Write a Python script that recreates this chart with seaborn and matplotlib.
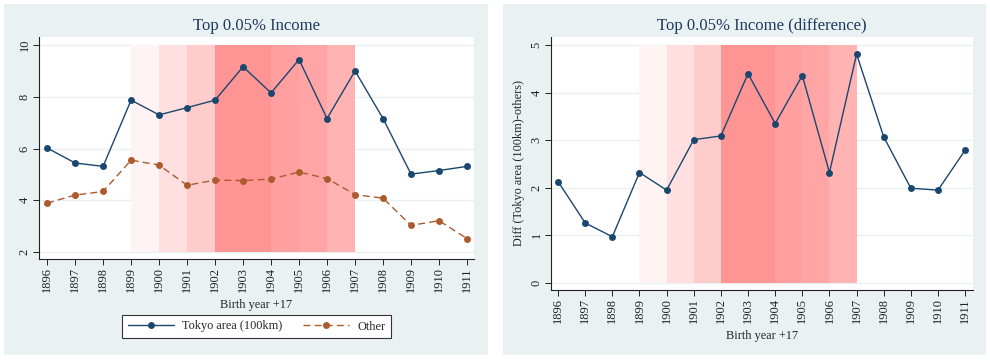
"""
Top 0.05% income by birth cohort: Tokyo area vs other regions
"""

import matplotlib.pyplot as plt
import seaborn as sns
from matplotlib.lines import Line2D
from matplotlib.patches import Rectangle

# -----------------------------
# Data
# -----------------------------
years = [1896, 1897, 1898, 1899, 1900, 1901, 1902, 1903,
         1904, 1905, 1906, 1907, 1908, 1909, 1910, 1911]

tokyo = [6.02, 5.44, 5.31, 7.87, 7.30, 7.58, 7.87, 9.16,
         8.15, 9.44, 7.16, 9.00, 7.16, 5.01, 5.15, 5.31]

other = [3.89, 4.20, 4.34, 5.55, 5.36, 4.58, 4.78, 4.76,
         4.82, 5.09, 4.84, 4.22, 4.08, 3.03, 3.21, 2.52]

diff = [2.13, 1.26, 0.97, 2.32, 1.95, 3.01, 3.09, 4.40,
        3.35, 4.36, 2.32, 4.81, 3.07, 1.99, 1.95, 2.79]

band_start = [1899, 1900, 1901, 1902, 1904, 1905, 1906]
band_end = [1900, 1901, 1902, 1904, 1905, 1906, 1907]
band_colors = ["#fff3f3", "#ffdfdf", "#ffcccc", "#ff9494",
               "#ff9f9f", "#ffa5a5", "#ffb3b3"]

left_yticks = [2, 4, 6, 8, 10]
right_yticks = [0, 1, 2, 3, 4, 5]

# -----------------------------
# Style
# -----------------------------
NAVY = "#1a476f"
BROWN = "#ad5a2d"
PANEL_BG = "#e9f1f3"
GRID = "#e9f1f3"
TITLE_COLOR = "#1e3a5c"

sns.set_theme(style="white")
plt.rcParams["font.family"] = ["Liberation Serif", "DejaVu Serif"]
plt.rcParams["axes.edgecolor"] = "#222222"
plt.rcParams["xtick.color"] = "#222222"
plt.rcParams["ytick.color"] = "#222222"

fig = plt.figure(figsize=(9.9, 3.6), dpi=100)
W, H = 990, 360


def fig_rect(x0, y0, x1, y1):
    return [x0 / W, 1 - y1 / H, (x1 - x0) / W, (y1 - y0) / H]


# panel backgrounds
for x0, x1 in [(4, 488), (503, 986)]:
    r = fig_rect(x0, 4, x1, 355)
    fig.patches.append(Rectangle((r[0], r[1]), r[2], r[3], transform=fig.transFigure,
                                 facecolor=PANEL_BG, edgecolor="none", zorder=-10))


def shade(ax, ylo, yhi):
    for s, e, c in zip(band_start, band_end, band_colors):
        ax.fill_between([s, e], ylo, yhi, facecolor=c, edgecolor="none",
                        linewidth=0, zorder=1)


def style_axis(ax, yticks, ylim, xlim, title):
    ax.set_facecolor("white")
    ax.set_xlim(*xlim)
    ax.set_ylim(*ylim)
    ax.set_xticks(years)
    ax.set_xticklabels([str(y) for y in years], rotation=90, fontsize=9)
    ax.set_yticks(yticks)
    ax.set_yticklabels([str(t) for t in yticks], rotation=90, va="center", fontsize=9)
    ax.tick_params(axis="both", direction="out", length=4, width=0.7, pad=2,
                   bottom=True, left=True)
    ax.grid(axis="y", color=GRID, linewidth=1.0, zorder=0)
    ax.set_axisbelow(True)
    for side in ["top", "right"]:
        ax.spines[side].set_visible(False)
    for side in ["left", "bottom"]:
        ax.spines[side].set_linewidth(0.8)
    ax.set_title(title, fontsize=12, color=TITLE_COLOR, pad=5)
    ax.set_xlabel("Birth year +17", fontsize=8.8, labelpad=5)


# -----------------------------
# Left panel
# -----------------------------
ax1 = fig.add_axes(fig_rect(39, 37, 474, 259))
shade(ax1, 2, 10)
sns.lineplot(x=years, y=tokyo, ax=ax1, color=NAVY, marker="o", markersize=5,
             markeredgewidth=0, linewidth=1.0, zorder=3)
sns.lineplot(x=years, y=other, ax=ax1, color=BROWN, marker="o", markersize=5,
             markeredgewidth=0, linewidth=1.0, linestyle=(0, (5, 3)), zorder=3)
style_axis(ax1, left_yticks, (1.73, 10.31), (1895.71, 1911.25), "Top 0.05% Income")
ax1.set_ylabel("")

handles = [
    Line2D([], [], color=NAVY, marker="o", markersize=5, markeredgewidth=0, linewidth=1.0),
    Line2D([], [], color=BROWN, marker="o", markersize=5, markeredgewidth=0,
           linewidth=1.0, linestyle=(0, (5, 3))),
]
leg = fig.legend(handles, ["Tokyo area (100km)", "Other"], loc="center",
                 bbox_to_anchor=(256.5 / W, 1 - 326.5 / H), ncol=2, fontsize=8.8,
                 frameon=True, fancybox=False, edgecolor="#333333", facecolor="white",
                 framealpha=1, handlelength=3.8, columnspacing=1.7, handletextpad=0.65,
                 borderpad=0.45)
leg.get_frame().set_linewidth(0.8)

# -----------------------------
# Right panel
# -----------------------------
ax2 = fig.add_axes(fig_rect(551, 37, 973, 290))
shade(ax2, 0, 5)
sns.lineplot(x=years, y=diff, ax=ax2, color=NAVY, marker="o", markersize=5,
             markeredgewidth=0, linewidth=1.0, zorder=3)
style_axis(ax2, right_yticks, (-0.15, 5.17), (1895.74, 1911.29),
           "Top 0.05% Income (difference)")
ax2.set_ylabel("Diff (Tokyo area (100km)-others)", fontsize=8.8, labelpad=4)

fig.savefig("out.png", dpi=100)
